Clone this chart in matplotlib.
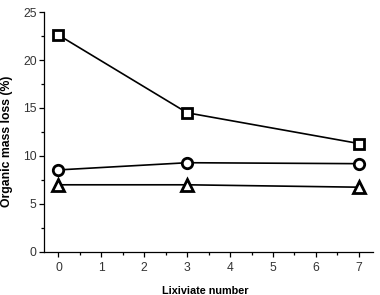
import matplotlib
matplotlib.use("Agg")
import matplotlib.pyplot as plt
from matplotlib.ticker import MultipleLocator

plt.rcParams['font.family'] = ['Liberation Sans', 'DejaVu Sans']

# data
lixiviate = [0, 3, 7]
squares = [22.6, 14.5, 11.3]
circles = [8.55, 9.3, 9.2]
triangles = [7.0, 7.0, 6.75]

fig = plt.figure(figsize=(3.8, 2.95), dpi=100)
ax = fig.add_axes([0.1166, 0.1458, 0.865, 0.8135])

style = dict(color='black', lw=1.2, mfc='white', mec='black', mew=2.0, clip_on=False)
ax.plot(lixiviate, squares, marker='s', ms=7.3, **style)
ax.plot(lixiviate, circles, marker='o', ms=7.5, **style)
ax.plot(lixiviate, triangles, marker='^', ms=8, **style)

ax.set_xlim(-0.33, 7.33)
ax.set_ylim(0, 25)
ax.xaxis.set_major_locator(MultipleLocator(1))
ax.xaxis.set_minor_locator(MultipleLocator(0.5))
ax.yaxis.set_major_locator(MultipleLocator(5))
ax.yaxis.set_minor_locator(MultipleLocator(2.5))

ax.spines['top'].set_visible(False)
ax.spines['right'].set_visible(False)
ax.spines['left'].set_linewidth(0.9)
ax.spines['bottom'].set_linewidth(0.9)
ax.tick_params(which='major', length=3.5, width=0.9, labelsize=8.7, colors='black', labelcolor='#333333')
ax.tick_params(axis='y', which='major', pad=2)
ax.tick_params(which='minor', length=2, width=0.9)

ax.set_xlabel("Lixiviate number", fontsize=7.8, fontweight='bold')
ax.set_ylabel("Organic mass loss (%)", fontsize=8.8, fontweight='bold')
ax.xaxis.set_label_coords(0.49, -0.142)
ax.yaxis.set_label_coords(-0.096, 0.46)

fig.savefig("out.png", dpi=100)
